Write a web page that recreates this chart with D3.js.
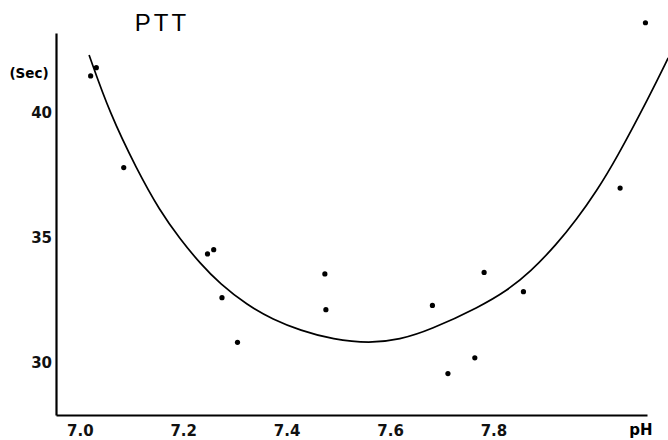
<!DOCTYPE html>
<html><head><meta charset="utf-8">
<script src="https://cdn.jsdelivr.net/npm/d3@7"></script>
<style>body{margin:0;background:#fff}svg{display:block}</style>
</head><body>
<svg id="c" width="668" height="440"></svg>
<script>
const xTicks = [7.0, 7.2, 7.4, 7.6, 7.8];
const yTicks = [30, 35, 40];
const pointsPH  = [7.021, 7.032, 7.085, 7.247, 7.259, 7.275, 7.305, 7.474, 7.476, 7.682, 7.712, 7.764, 7.782, 7.858, 8.045, 8.094];
const pointsSec = [41.48, 41.81, 37.81, 34.35, 34.52, 32.60, 30.81, 33.55, 32.12, 32.29, 29.56, 30.19, 33.61, 32.84, 36.99, 43.61];
const curvePH  = [7.018, 7.058, 7.110, 7.155, 7.194, 7.233, 7.271, 7.323, 7.374, 7.426, 7.490, 7.561, 7.619, 7.677, 7.774, 7.826, 7.871, 7.922, 7.961, 8.000, 8.035, 8.103, 8.138];
const curveSec = [42.32, 39.98, 37.75, 36.07, 34.95, 33.96, 33.16, 32.31, 31.72, 31.29, 30.92, 30.77, 30.92, 31.30, 32.24, 32.88, 33.62, 34.73, 35.73, 36.89, 38.06, 40.72, 42.20];

const svg = d3.select("#c");
const x = d3.scaleLinear().domain([6.954, 8.097]).range([56, 647]);
const y = d3.scaleLinear().domain([27.9, 43.2]).range([415, 33]);
const font = "'Liberation Sans', Arial, sans-serif";
const bold = "'DejaVu Sans', sans-serif";

const gx = svg.append("g").attr("transform", "translate(0,415)")
  .call(d3.axisBottom(x).tickValues(xTicks).tickFormat(d3.format(".1f")).tickSizeInner(0).tickSizeOuter(0).tickPadding(10));
const gy = svg.append("g").attr("transform", "translate(56,0)")
  .call(d3.axisLeft(y).tickValues(yTicks).tickSizeInner(0).tickSizeOuter(0).tickPadding(4));
[gx, gy].forEach(g => {
  g.select(".domain").attr("stroke", "#000").attr("stroke-width", 2.2);
  g.selectAll("text").attr("font-family", bold).attr("font-size", 15).attr("font-weight", "bold").attr("fill", "#111");
});

svg.append("text").attr("x", 641).attr("y", 435).attr("text-anchor", "middle")
  .attr("font-family", bold).attr("font-size", 15).attr("font-weight", "bold").text("pH");
svg.append("text").attr("x", 29).attr("y", 78).attr("text-anchor", "middle")
  .attr("font-family", bold).attr("font-size", 13.5).attr("font-weight", "bold").text("(Sec)");
svg.append("text").attr("x", 162).attr("y", 31).attr("text-anchor", "middle")
  .attr("font-family", font).attr("font-size", 24).attr("letter-spacing", 3).text("PTT");

const curve = curvePH.map((p, i) => [p, curveSec[i]]);
svg.append("path").datum(curve)
  .attr("d", d3.line().x(d => x(d[0])).y(d => y(d[1])).curve(d3.curveBasis))
  .attr("fill", "none").attr("stroke", "#000").attr("stroke-width", 1.7);

svg.selectAll("circle.pt").data(pointsPH.map((p, i) => [p, pointsSec[i]]))
  .enter().append("circle").attr("class", "pt")
  .attr("cx", d => x(d[0])).attr("cy", d => y(d[1])).attr("r", 2.6).attr("fill", "#000");
</script>
</body></html>
